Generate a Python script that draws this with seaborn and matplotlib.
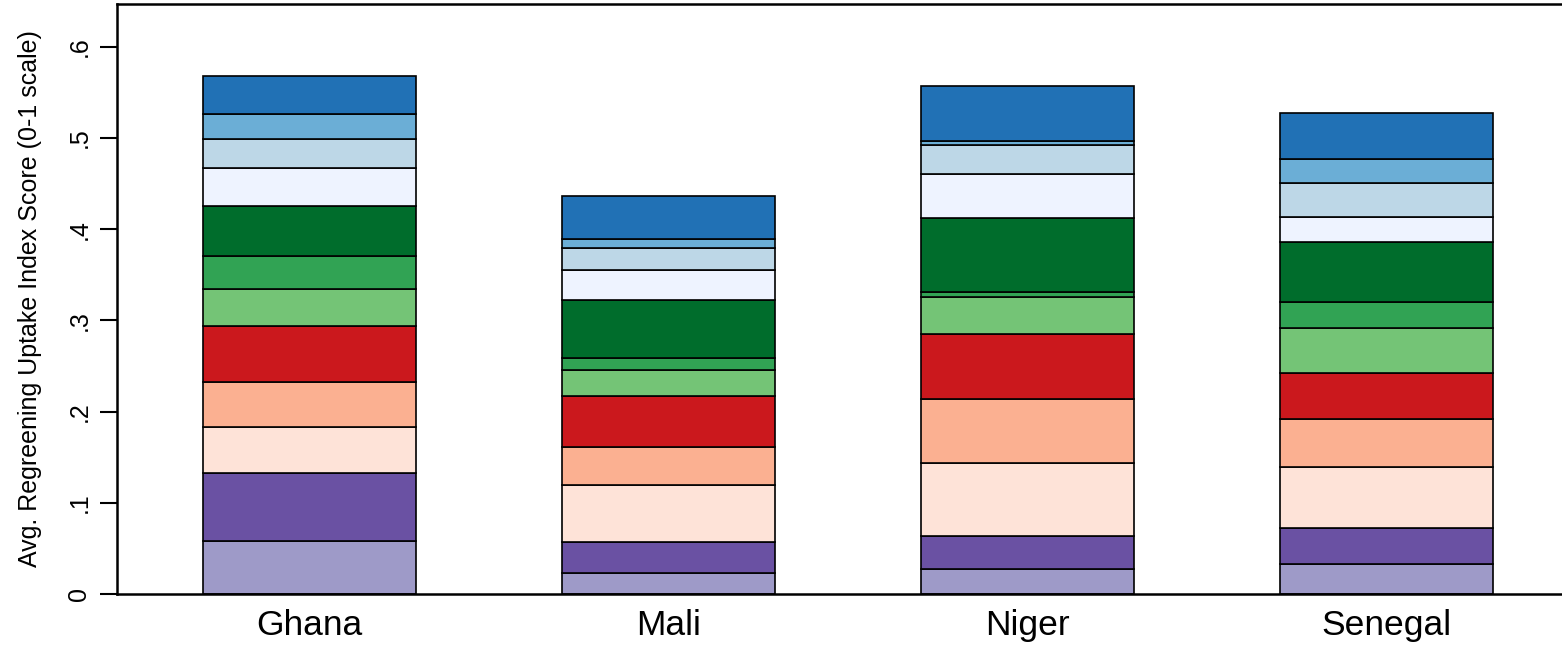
import matplotlib
matplotlib.use("Agg")
import matplotlib.pyplot as plt
import numpy as np
import pandas as pd
import seaborn as sb

# countries on the x axis
countries = ["Ghana", "Mali", "Niger", "Senegal"]

# index components, bottom of the stack first
components = ["c01", "c02", "c03", "c04", "c05", "c06",
              "c07", "c08", "c09", "c10", "c11", "c12"]
colors = ["#9e9ac8", "#6a51a3", "#fee3d8", "#fbb091", "#cb181d", "#74c476",
          "#31a354", "#006d2c", "#eef3ff", "#bdd7e7", "#6baed6", "#2171b5"]

# component contributions per country (bottom to top)
ghana = [0.058, 0.075, 0.050, 0.049, 0.062, 0.041, 0.036, 0.054, 0.042, 0.032, 0.027, 0.042]
mali = [0.023, 0.034, 0.063, 0.041, 0.056, 0.029, 0.013, 0.063, 0.033, 0.024, 0.010, 0.048]
niger = [0.027, 0.037, 0.080, 0.070, 0.071, 0.041, 0.005, 0.081, 0.049, 0.031, 0.005, 0.060]
senegal = [0.033, 0.039, 0.067, 0.053, 0.050, 0.050, 0.028, 0.066, 0.027, 0.038, 0.026, 0.050]

yticks = [0, 0.1, 0.2, 0.3, 0.4, 0.5, 0.6]
ytick_labels = ["0", ".1", ".2", ".3", ".4", ".5", ".6"]

rows = []
for country, vals in zip(countries, [ghana, mali, niger, senegal]):
    for comp, v in zip(components, vals):
        rows.append({"country": country, "component": comp, "value": v})
df = pd.DataFrame(rows)
df["country"] = pd.Categorical(df["country"], categories=countries, ordered=True)

fig = plt.figure(figsize=(15.62, 6.45), dpi=100)
ax = fig.add_axes([0.0749, 0.079, 0.9251, 0.9148])

# seaborn stacks the first hue level on top, so pass top-first order
sb.histplot(data=df, x="country", weights="value", hue="component",
            hue_order=components[::-1], palette=dict(zip(components, colors)),
            multiple="stack", discrete=True, shrink=0.593, alpha=1,
            edgecolor="black", linewidth=1.2, legend=False, ax=ax)

ax.set_xlim(-0.536, 3.489)
ax.set_ylim(0, 0.647)
ax.set_xticks(range(len(countries)))
ax.set_xticklabels(countries, fontsize=25.5, family="Liberation Sans")
ax.set_yticks(yticks)
ax.set_yticklabels(ytick_labels, fontsize=18, family="Liberation Sans",
                   rotation=90, va="center")
ax.tick_params(axis="y", length=12.5, width=1.5, pad=6)
ax.tick_params(axis="x", length=0, pad=11)
ax.set_xlabel("")
ax.set_ylabel("Avg. Regreening Uptake Index Score (0-1 scale)", fontsize=18,
              family="Liberation Sans", labelpad=18)

for side in ["left", "bottom", "top"]:
    ax.spines[side].set_linewidth(1.8)
    ax.spines[side].set_color("black")
ax.spines["right"].set_visible(False)

fig.savefig("out.png", dpi=100)
